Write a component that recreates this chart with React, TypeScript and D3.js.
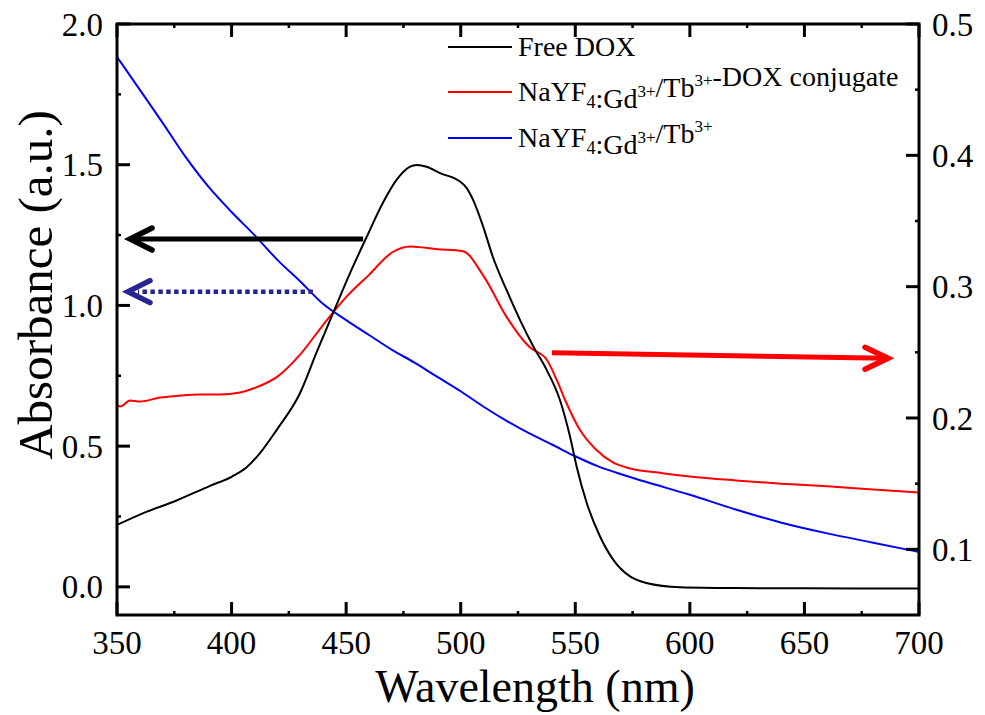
import React from "react";
import * as d3 from "d3";

// ---- data ----
const freeDoxWl = [350, 361.5, 376, 390.6, 400.2, 406.6, 412.4, 419.7, 429.9, 437, 444.3, 451.7, 459, 466, 472, 477.9, 480.8, 485.1, 491, 499.7, 502.6, 505.4, 509.8, 514, 520, 525.9, 531.7, 537.5, 543.3, 547.7, 550.6, 555, 560.8, 566.6, 573.9, 581, 595.7, 620, 650, 700];
const freeDoxAbs = [0.22, 0.262, 0.307, 0.359, 0.392, 0.425, 0.475, 0.558, 0.689, 0.831, 0.973, 1.115, 1.244, 1.364, 1.446, 1.493, 1.499, 1.493, 1.47, 1.44, 1.417, 1.375, 1.28, 1.173, 1.055, 0.948, 0.854, 0.771, 0.664, 0.534, 0.427, 0.298, 0.179, 0.096, 0.037, 0.014, -0.001, -0.004, -0.005, -0.006];

const conjWl = [350, 351.5, 355.7, 360, 368.8, 377.5, 386, 395, 403.7, 410, 420, 429.9, 440, 450, 460, 470, 477.9, 490, 501, 510, 520, 530, 537.5, 541.9, 546, 552, 559, 566.6, 574, 588, 600, 620, 640, 660, 680, 700];
const conjAbs = [0.21, 0.2087, 0.2133, 0.2125, 0.2156, 0.2171, 0.2179, 0.2179, 0.2194, 0.2228, 0.2315, 0.2483, 0.271, 0.292, 0.309, 0.326, 0.3306, 0.3285, 0.327, 0.308, 0.277, 0.254, 0.2445, 0.229, 0.212, 0.191, 0.176, 0.166, 0.1616, 0.158, 0.1555, 0.1525, 0.15, 0.148, 0.1456, 0.1433];

const npWl = [350, 360, 370, 380, 390, 400, 410, 420, 430, 440, 450, 460, 470, 480, 490, 500, 510, 520, 530, 540, 550, 560, 570, 580, 600, 620, 640, 660, 680, 700];
const npAbs = [1.883, 1.766, 1.648, 1.527, 1.421, 1.332, 1.25, 1.162, 1.085, 1.005, 0.948, 0.895, 0.842, 0.796, 0.745, 0.695, 0.64, 0.59, 0.545, 0.505, 0.464, 0.428, 0.4, 0.375, 0.327, 0.275, 0.228, 0.19, 0.157, 0.124];

const xTicks = [350, 400, 450, 500, 550, 600, 650, 700];
const xMinor = [375, 425, 475, 525, 575, 625, 675];
const yLeftTicks = [0.0, 0.5, 1.0, 1.5, 2.0];
const yLeftMinor = [0.25, 0.75, 1.25, 1.75];
const yRightTicks = [0.1, 0.2, 0.3, 0.4, 0.5];
const yRightMinor = [0.15, 0.25, 0.35, 0.45];

// annotation arrows (data coords)
const blackArrow = { from: 457.4, to: 355.7, y: 1.236 };
const blueArrow = { from: 435.5, to: 354.8, y: 1.049 };
const redArrow = { from: 539.8, fromY: 0.2496, to: 686.5, toY: 0.2455 };

const FONT = "'Liberation Serif', 'Times New Roman', serif";

export default function App() {
  const W = 985, H = 715;
  const L = 117, R = 919, T = 24, B = 615;
  const x = d3.scaleLinear().domain([350, 700]).range([L, R]);
  const yL = d3.scaleLinear().domain([-0.1, 2.0]).range([B, T]);
  const yR = d3.scaleLinear().domain([0.05, 0.5]).range([B, T]);

  const mk = (wl: number[], v: number[], ys: d3.ScaleLinear<number, number>) =>
    d3.line<number>().x((_, i) => x(wl[i])).y((d) => ys(d)).curve(d3.curveMonotoneX)(v) || "";

  const blackPath = mk(freeDoxWl, freeDoxAbs, yL);
  const redPath = mk(conjWl, conjAbs, yR);
  const bluePath = mk(npWl, npAbs, yL);

  const MAJ = 13, MIN = 4;
  const tickFont = 33;

  const bx1 = x(blackArrow.from), bx2 = x(blackArrow.to), by = yL(blackArrow.y);
  const ux1 = x(blueArrow.from), ux2 = x(blueArrow.to), uy = yL(blueArrow.y);
  const rx1 = x(redArrow.from), ry1 = yR(redArrow.fromY), rx2 = x(redArrow.to), ry2 = yR(redArrow.toY);

  const legendRows = [
    { color: "#000000", y: 47, kind: 0 },
    { color: "#ff0000", y: 92, kind: 1 },
    { color: "#0000ff", y: 138, kind: 2 },
  ];
  const legFont = 28;
  const sub = (t: string) => [
    <tspan key={t + "a"} dy={7} fontSize={18}>{t}</tspan>,
    <tspan key={t + "b"} dy={-7}></tspan>,
  ];
  const sup = (t: string, k: string) => [
    <tspan key={k + "a"} dy={-11} fontSize={17}>{t}</tspan>,
    <tspan key={k + "b"} dy={11}></tspan>,
  ];

  return (
    <svg width={W} height={H} style={{ position: "absolute", left: 0, top: 0, background: "#fff" }} fontFamily={FONT}>
      <rect x={0} y={0} width={W} height={H} fill="#fff" />
      {/* curves */}
      <path d={bluePath} fill="none" stroke="#0000ff" strokeWidth={2} />
      <path d={redPath} fill="none" stroke="#ff0000" strokeWidth={2} />
      <path d={blackPath} fill="none" stroke="#000000" strokeWidth={2} />

      {/* arrows */}
      <line x1={bx1} y1={by} x2={bx2 + 2} y2={by} stroke="#000" strokeWidth={5} />
      <polyline points={`${bx2 + 22},${by - 11} ${bx2},${by} ${bx2 + 22},${by + 11}`} fill="none" stroke="#000" strokeWidth={5.5} strokeLinecap="round" strokeLinejoin="miter" />

      <line x1={ux1} y1={uy} x2={ux2 + 10} y2={uy} stroke="#262692" strokeWidth={4.5} strokeDasharray="4.5 3.4" />
      <polyline points={`${ux2 + 22},${uy - 11} ${ux2},${uy} ${ux2 + 22},${uy + 11}`} fill="none" stroke="#262692" strokeWidth={5.5} strokeLinecap="round" />

      <line x1={rx1} y1={ry1} x2={rx2 - 2} y2={ry2} stroke="#ff0000" strokeWidth={5} />
      <polyline points={`${rx2 - 23},${ry2 - 11} ${rx2},${ry2} ${rx2 - 23},${ry2 + 11}`} fill="none" stroke="#ff0000" strokeWidth={5.5} strokeLinecap="round" />

      {/* frame */}
      <rect x={L} y={T} width={R - L} height={B - T} fill="none" stroke="#000" strokeWidth={3} />

      {/* x ticks */}
      {xTicks.map((t) => (
        <g key={"xt" + t}>
          <line x1={x(t)} x2={x(t)} y1={B} y2={B - MAJ} stroke="#000" strokeWidth={3} />
          <line x1={x(t)} x2={x(t)} y1={T} y2={T + MAJ} stroke="#000" strokeWidth={3} />
          <text x={x(t)} y={654} fontSize={tickFont} textAnchor="middle" fill="#000">{t}</text>
        </g>
      ))}
      {xMinor.map((t) => (
        <g key={"xm" + t}>
          <line x1={x(t)} x2={x(t)} y1={B} y2={B - MIN} stroke="#000" strokeWidth={2.5} />
          <line x1={x(t)} x2={x(t)} y1={T} y2={T + MIN} stroke="#000" strokeWidth={2.5} />
        </g>
      ))}
      {/* left ticks */}
      {yLeftTicks.map((t) => (
        <g key={"yl" + t}>
          <line x1={L} x2={L + MAJ} y1={yL(t)} y2={yL(t)} stroke="#000" strokeWidth={3} />
          <text x={103} y={yL(t) + 11.5} fontSize={tickFont} textAnchor="end" fill="#000">{t.toFixed(1)}</text>
        </g>
      ))}
      {yLeftMinor.map((t) => (
        <line key={"ylm" + t} x1={L} x2={L + MIN} y1={yL(t)} y2={yL(t)} stroke="#000" strokeWidth={2.5} />
      ))}
      {/* right ticks */}
      {yRightTicks.map((t) => (
        <g key={"yr" + t}>
          <line x1={R} x2={R - MAJ} y1={yR(t)} y2={yR(t)} stroke="#000" strokeWidth={3} />
          <text x={932} y={yR(t) + 11.5} fontSize={tickFont} textAnchor="start" fill="#000">{t.toFixed(1)}</text>
        </g>
      ))}
      {yRightMinor.map((t) => (
        <line key={"yrm" + t} x1={R} x2={R - MIN} y1={yR(t)} y2={yR(t)} stroke="#000" strokeWidth={2.5} />
      ))}

      {/* axis titles */}
      <text x={(L + R) / 2 + 17} y={702} fontSize={46} textAnchor="middle" fill="#000">Wavelength (nm)</text>
      <text transform={`translate(52, 285) rotate(-90)`} fontSize={49} textAnchor="middle" fill="#000">Absorbance (a.u.)</text>

      {/* legend */}
      {legendRows.map((r) => (
        <g key={"lg" + r.kind}>
          <line x1={448} x2={512} y1={r.y} y2={r.y} stroke={r.color} strokeWidth={2} />
          <text x={518} y={r.y + 9} fontSize={legFont} fill="#000">
            {r.kind === 0 ? (
              "Free DOX"
            ) : (
              <>
                <tspan>NaYF</tspan>
                {sub("4")}
                <tspan>:Gd</tspan>
                {sup("3+", "g")}
                <tspan>/Tb</tspan>
                {sup("3+", "t")}
                {r.kind === 1 ? <tspan>-DOX conjugate</tspan> : null}
              </>
            )}
          </text>
        </g>
      ))}
    </svg>
  );
}
